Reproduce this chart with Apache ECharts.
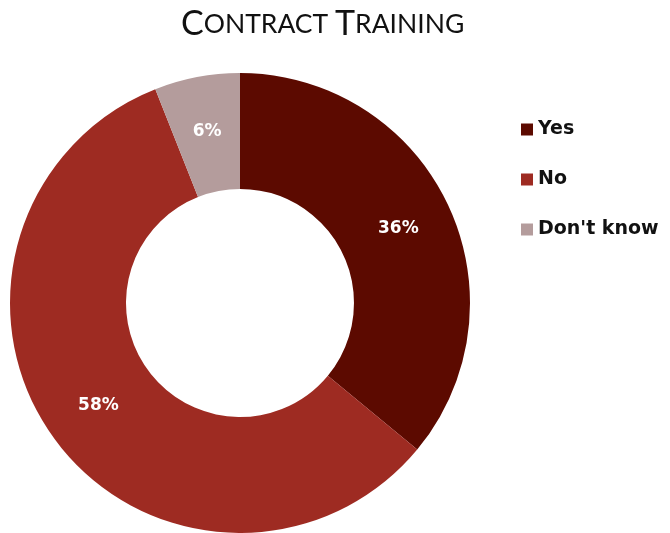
<!DOCTYPE html>
<html>
<head>
<meta charset="utf-8">
<script src="https://cdn.jsdelivr.net/npm/echarts@6/dist/echarts.min.js"></script>
<style>
  html, body { margin: 0; padding: 0; background: #fff; }
  #chart { width: 670px; height: 533px; }
</style>
</head>
<body>
<div id="chart"></div>
<script>
const categories = ['Yes', 'No', "Don't know"]
const values = [36, 58, 6]
const colors = ['#5c0a00', '#9e2b22', '#b49c9c']

const chart = echarts.init(document.getElementById('chart'))

chart.setOption({
  animation: false,
  color: colors,
  title: {
    text: '{b|C}{s|ONTRACT }{b|T}{s|RAINING}',
    left: 176,
    top: 2,
    textStyle: {
      rich: {
        b: { fontFamily: 'Lato', fontSize: 34, color: '#111', fontWeight: 'normal' },
        s: { fontFamily: 'Lato', fontSize: 26.5, color: '#111', fontWeight: 'normal' }
      }
    }
  },
  legend: {
    orient: 'vertical',
    left: 516,
    top: 115,
    itemWidth: 12,
    itemHeight: 12,
    itemGap: 31,
    icon: 'rect',
    data: categories,
    textStyle: {
      fontFamily: 'DejaVu Sans',
      fontWeight: 'bold',
      fontSize: 19,
      color: '#111'
    }
  },
  series: [
    {
      type: 'pie',
      center: [240, 303],
      radius: [114, 230],
      startAngle: 90,
      clockwise: true,
      silent: true,
      label: {
        show: true,
        position: 'inside',
        formatter: '{c}%',
        color: '#fff',
        fontFamily: 'DejaVu Sans',
        fontWeight: 'bold',
        fontSize: 17
      },
      labelLine: { show: false },
      data: categories.map((name, i) => ({ name, value: values[i] }))
    }
  ]
})
</script>
</body>
</html>
